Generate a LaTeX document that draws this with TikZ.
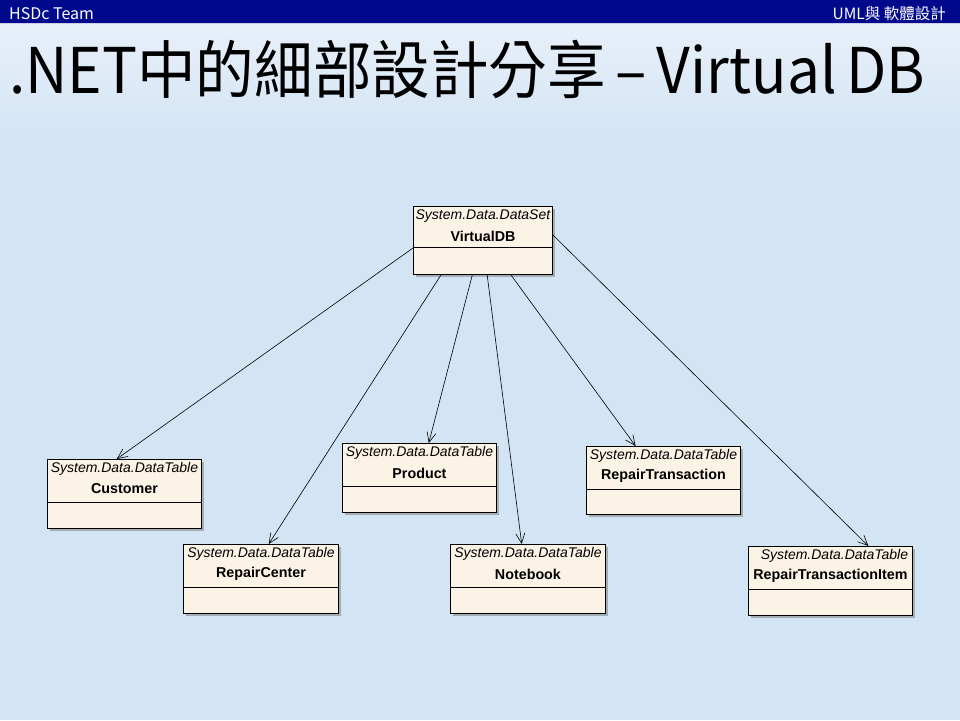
\documentclass[tikz,border=0pt]{standalone}
\usepackage{fontspec}
\usepackage{graphicx}
\setmainfont{Liberation Sans}
\newfontfamily\cjk{Noto Sans CJK TC}
\usetikzlibrary{arrows.meta,shadows,calc}
\definecolor{navy}{HTML}{00088C}
\definecolor{bgblue}{HTML}{D3E4F5}
\definecolor{bgtop}{HTML}{E8F0F9}
\definecolor{boxfill}{HTML}{FCF3E7}
\newcommand\umlclass[9]{%
  \node[cbox, minimum width=#4pt, minimum height=#5pt] (#1) at (#2,#3) {};
  \draw[line width=0.8pt] ($(#1.north west)+(0,#6)$) -- ($(#1.north east)+(0,#6)$);
  \node[stereo] (#1-st) at ($(#1.north)+(#9,10)$) {#7};
  \node[cname] (#1-nm) at ($(#1.north)+(0,30)$) {#8};
}
\begin{document}
\begin{tikzpicture}[x=1pt,y=-1pt,
  cbox/.style={draw=black, line width=0.9pt, fill=boxfill,
    drop shadow={shadow xshift=3pt, shadow yshift=-3pt, fill=black!50, opacity=0.55},
    inner sep=0pt, anchor=north west},
  stereo/.style={font=\fontsize{14}{15}\selectfont\itshape, inner sep=0pt},
  cname/.style={font=\fontsize{14.3}{15}\selectfont\bfseries, inner sep=0pt},
  dep/.style={draw=black, line width=0.6pt, -{Straight Barb[length=10pt,width=9pt]}}
]
\useasboundingbox (0,0) rectangle (960,720);
\fill[bgblue] (0,0) rectangle (960,720);
\shade[top color=bgtop, bottom color=bgblue] (0,23) rectangle (960,140);
\fill[navy] (0,0) rectangle (960,23);
\draw[white!80!navy, line width=0.8pt] (0,23.4) -- (960,23.4);
\node[anchor=west, text=white, inner sep=0pt, font=\cjk\fontsize{16}{18}\selectfont] (team) at (9,13.5) {HSDc Team};
\node[anchor=east, text=white, inner sep=0pt, font=\cjk\fontsize{15.5}{18}\selectfont] (course) at (946,13.5) {UML與 軟體設計};
\node[anchor=base west, inner sep=0pt, font=\cjk\fontsize{63}{70}\selectfont] (title) at (9,93)
  {\resizebox{916pt}{\height}{.NET中的細部設計分享\,–\,Virtual\,DB}};

\umlclass{vdb}{413}{206}{139}{68}{41}{System.Data.DataSet}{VirtualDB}{0}
\umlclass{cust}{47}{459}{154}{69}{43}{System.Data.DataTable}{Customer}{0}
\umlclass{rc}{183}{544}{155}{69}{43}{System.Data.DataTable}{RepairCenter}{0}
\umlclass{prod}{342}{443}{154}{69}{43}{System.Data.DataTable}{Product}{0}
\umlclass{nb}{450}{544}{155}{69}{43}{System.Data.DataTable}{Notebook}{0}
\umlclass{rt}{586}{446}{154}{68}{43}{System.Data.DataTable}{RepairTransaction}{0}
\umlclass{rti}{748}{546}{164}{69}{43}{System.Data.DataTable}{RepairTransactionItem}{4}

\draw[dep] ($(vdb.north west)+(0,42)$) -- ($(cust.north west)!0.45!(cust.north east)$);
\draw[dep] ($(vdb.south west)!0.2!(vdb.south east)$) -- ($(rc.north west)!0.55!(rc.north east)$);
\draw[dep] ($(vdb.south west)!0.424!(vdb.south east)$) -- ($(prod.north west)!0.56!(prod.north east)$);
\draw[dep] ($(vdb.south west)!0.53!(vdb.south east)$) -- ($(nb.north west)!0.46!(nb.north east)$);
\draw[dep] ($(vdb.south west)!0.70!(vdb.south east)$) -- ($(rt.north west)!0.32!(rt.north east)$);
\draw[dep] ($(vdb.north east)+(0,29)$) -- ($(rti.north west)!0.73!(rti.north east)$);
\end{tikzpicture}
\end{document}
